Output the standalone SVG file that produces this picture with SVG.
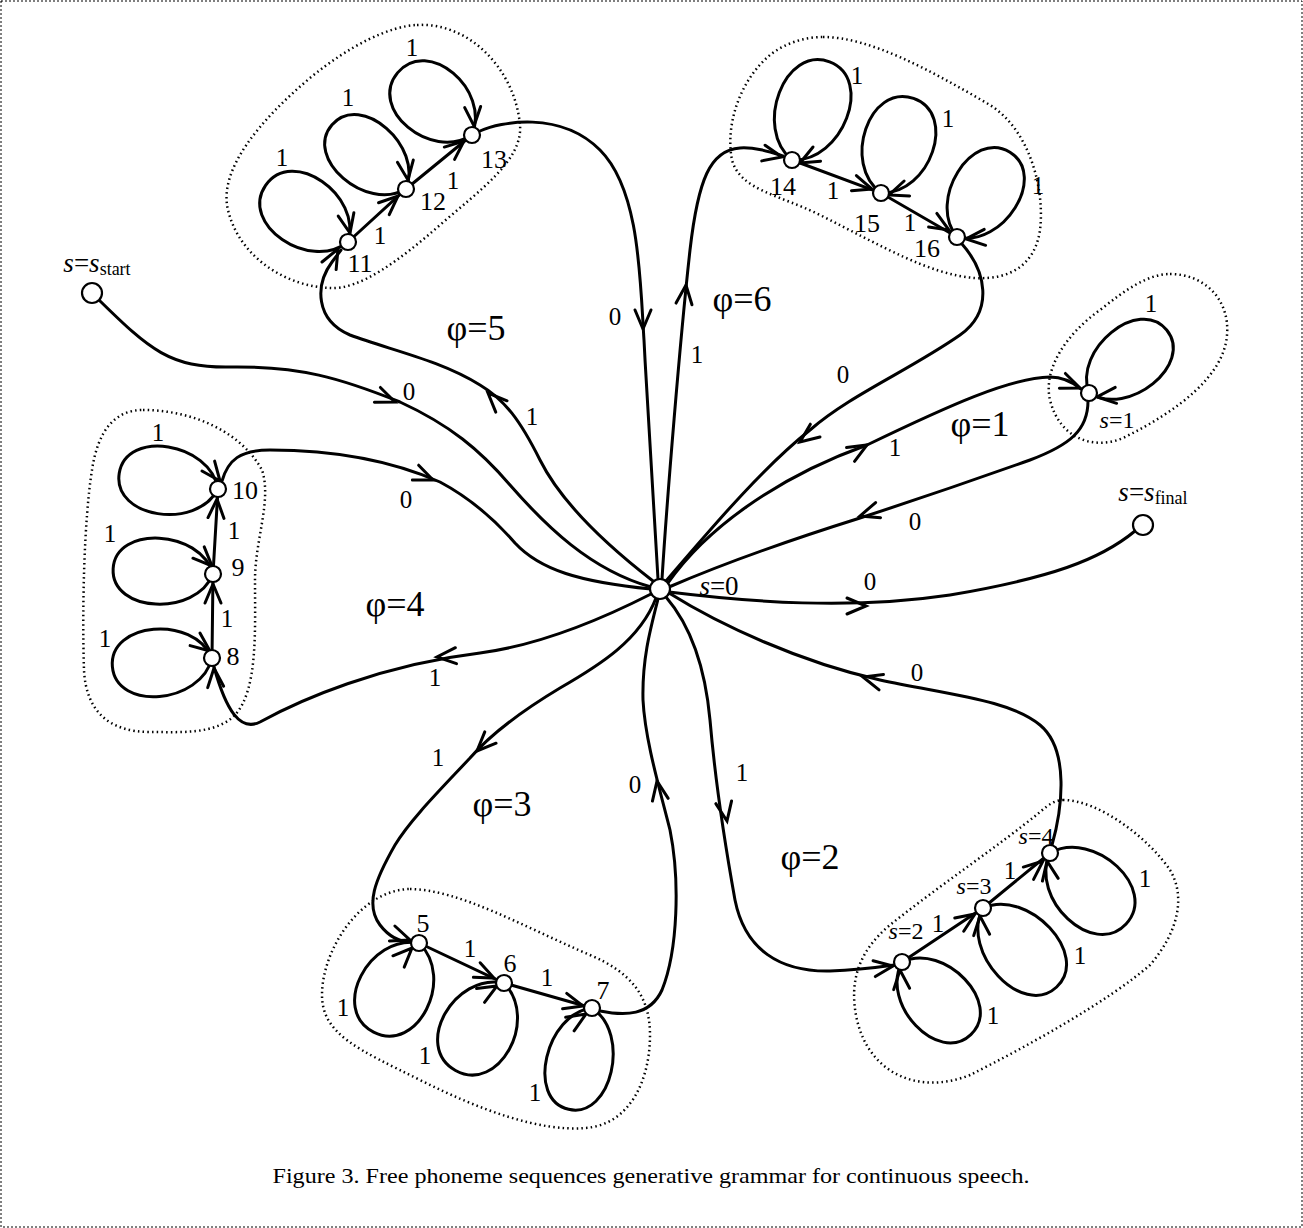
<svg xmlns="http://www.w3.org/2000/svg" xmlns:xlink="http://www.w3.org/1999/xlink" width="1303" height="1228" viewBox="0 0 1303 1228">
<style>
.e{fill:none;stroke:#000;stroke-width:3;stroke-linecap:round}
.bd{fill:none;stroke:#000;stroke-width:2.5;stroke-dasharray:1.5 3.2;stroke-linecap:butt}
.nd{fill:#fff;stroke:#000;stroke-width:2.2}
.t{font-family:"Liberation Serif","Times New Roman",serif;fill:#000;text-anchor:middle}
.d{font-size:25px}
.nl{font-size:26px}
.sl{font-size:24px}
.ph{font-size:36px}
.it{font-style:italic}
</style>
<defs>
<path id="ah" d="M-19,-8 L0,0 L-19,8" fill="none" stroke="#000" stroke-width="3" stroke-linecap="round" stroke-linejoin="miter"/>
</defs>
<rect x="1" y="1" width="1301" height="1226" fill="#fff" stroke="#000" stroke-width="1" stroke-dasharray="2 2"/>

<g id="clusters">
<path class="bd" d="M417,25 C470,22 515,70 520,125 C523,160 480,190 440,225 C400,260 360,290 330,288 C290,287 240,260 228,210 C218,170 260,120 310,78 C350,45 390,26 417,25 Z"/>
<path class="bd" d="M823,37 C870,37 930,70 990,105 C1030,130 1045,190 1040,230 C1035,265 1010,280 975,278 C930,275 880,245 820,215 C780,195 740,190 732,160 C725,125 740,80 770,55 C785,43 805,37 823,37 Z"/>
<path class="bd" d="M1170,274 C1205,274 1230,300 1227,335 C1224,375 1180,410 1123,438 C1095,450 1060,440 1050,400 C1043,370 1065,335 1100,310 C1125,290 1148,274 1170,274 Z"/>
<path class="bd" d="M143,410 C190,410 240,430 262,470 C272,500 255,540 255,580 C255,630 258,690 235,715 C215,735 180,732 150,732 C110,732 86,712 84,670 C82,610 84,520 92,470 C98,430 115,410 143,410 Z"/>
<path class="bd" d="M410,889 C460,890 520,925 590,955 C630,972 650,995 650,1035 C650,1080 630,1125 585,1128 C540,1132 480,1110 420,1080 C360,1050 322,1035 322,995 C322,950 360,890 410,889 Z"/>
<path class="bd" d="M1063,800 C1100,800 1150,840 1170,870 C1185,895 1180,930 1150,965 C1110,1000 1030,1045 970,1075 C920,1095 870,1075 857,1020 C848,980 860,950 890,925 C940,885 1000,845 1040,812 C1048,805 1055,800 1063,800 Z"/>
</g>

<g id="connectors">
<!-- main edges -->
<path class="e" d="M99,300 C150,350 170,368 230,367 C300,366 340,378 400,402 C450,425 480,450 510,485 C545,525 590,570 651,587"/>
<path class="e" d="M669,592 C750,602 850,610 950,595 C1050,578 1100,560 1135,531"/>
<path class="e" d="M653,581 C600,540 560,500 540,460 C520,420 505,400 480,385 C440,360 390,350 350,335 C315,320 315,285 332,262 L341,250"/>
<path class="e" d="M480,131 C500,122 560,110 600,150 C640,190 640,280 644,340 C648,420 654,500 658,579"/>
<path class="e" d="M662,579 C667,500 680,340 690,250 C698,180 710,150 740,148 C755,147 770,152 783,156"/>
<path class="e" d="M962,244 C985,270 995,310 960,335 C910,370 850,395 810,430 C760,470 710,530 666,581"/>
<path class="e" d="M668,583 C705,530 775,478 867,445 C950,405 1010,378 1050,377 C1065,377 1075,384 1081,389"/>
<path class="e" d="M1088,401 C1088,430 1070,445 1030,460 C960,485 900,505 860,518 C790,540 720,565 669,587"/>
<path class="e" d="M651,594 C600,620 540,645 480,653 C380,665 300,700 260,722 C240,732 226,710 214,667"/>
<path class="e" d="M222,481 C228,460 240,450 270,450 C330,450 390,460 440,482 C470,498 495,520 515,543 C540,570 580,582 651,589"/>
<path class="e" d="M656,598 C640,640 600,665 560,688 C520,712 490,735 470,758 C440,790 410,820 395,845 C375,880 365,905 380,925 C390,938 400,942 411,942"/>
<path class="e" d="M600,1011 C625,1016 650,1016 662,990 C678,950 680,880 670,830 C660,790 645,740 643,700 C642,660 650,630 658,599"/>
<path class="e" d="M666,597 C690,625 705,665 710,720 C716,790 726,850 735,900 C745,950 780,972 830,971 C860,970 880,967 894,965"/>
<path class="e" d="M1052,845 C1062,810 1070,750 1040,725 C1010,700 950,695 880,680 C800,662 720,625 669,593"/>
<!-- intra cluster edges -->
<path class="e" d="M348,242 L406,189 L472,135"/>
<path class="e" d="M792,160 L881,193 L957,237"/>
<path class="e" d="M212,658 L213,574 L218,489"/>
<path class="e" d="M419,943 L504,983 L592,1008"/>
<path class="e" d="M902,962 L983,908 L1050,853"/>
<!-- self loops -->
<path class="e" d="M0,0 C-15,-47 -100,-47 -100,0 C-100,47 -15,47 0,0" transform="translate(348,242) rotate(34.5)"/>
<path class="e" d="M0,0 C-15,-44 -98,-44 -98,0 C-98,44 -15,44 0,0" transform="translate(406,189) rotate(41)"/>
<path class="e" d="M0,0 C-15,-47 -97,-47 -97,0 C-97,47 -15,47 0,0" transform="translate(472,135) rotate(40)"/>
<path class="e" d="M0,0 C-16,-48 -105,-48 -105,0 C-105,48 -16,48 0,0" transform="translate(792,160) rotate(111)"/>
<path class="e" d="M0,0 C-15,-47 -100,-47 -100,0 C-100,47 -15,47 0,0" transform="translate(881,193) rotate(109)"/>
<path class="e" d="M0,0 C-15,-45 -100,-45 -100,0 C-100,45 -15,45 0,0" transform="translate(957,237) rotate(122)"/>
<path class="e" d="M0,0 C-15,-44 -100,-44 -100,0 C-100,44 -15,44 0,0" transform="translate(1089,393) rotate(141)"/>
<path class="e" d="M0,0 C-15,-45 -100,-45 -100,0 C-100,45 -15,45 0,0" transform="translate(218,489) rotate(9)"/>
<path class="e" d="M0,0 C-15,-44 -100,-44 -100,0 C-100,44 -15,44 0,0" transform="translate(213,574) rotate(3)"/>
<path class="e" d="M0,0 C-15,-45 -100,-45 -100,0 C-100,45 -15,45 0,0" transform="translate(212,658) rotate(-5)"/>
<path class="e" d="M0,0 C-15,-49 -100,-49 -100,0 C-100,49 -15,49 0,0" transform="translate(419,943) rotate(-63)"/>
<path class="e" d="M0,0 C-15,-49 -100,-49 -100,0 C-100,49 -15,49 0,0" transform="translate(504,983) rotate(-61)"/>
<path class="e" d="M0,0 C-16,-44 -104,-44 -104,0 C-104,44 -16,44 0,0" transform="translate(592,1008) rotate(-77)"/>
<path class="e" d="M0,0 C-15,-45 -100,-45 -100,0 C-100,45 -15,45 0,0" transform="translate(902,962) rotate(-133.5)"/>
<path class="e" d="M0,0 C-16,-47 -108,-47 -108,0 C-108,47 -16,47 0,0" transform="translate(983,908) rotate(-133)"/>
<path class="e" d="M0,0 C-16,-48 -104,-48 -104,0 C-104,48 -16,48 0,0" transform="translate(1050,853) rotate(-137)"/>
<!-- arrowheads -->
<use xlink:href="#ah" transform="translate(395,402) rotate(22)"/>
<use xlink:href="#ah" transform="translate(643,329) rotate(90)"/>
<use xlink:href="#ah" transform="translate(488,393) rotate(-135)"/>
<use xlink:href="#ah" transform="translate(686,285) rotate(-84)"/>
<use xlink:href="#ah" transform="translate(800,442) rotate(143)"/>
<use xlink:href="#ah" transform="translate(867,445) rotate(-30)"/>
<use xlink:href="#ah" transform="translate(860,516) rotate(162)"/>
<use xlink:href="#ah" transform="translate(866,606) rotate(0)"/>
<use xlink:href="#ah" transform="translate(863,677) rotate(196)"/>
<use xlink:href="#ah" transform="translate(727,821) rotate(80)"/>
<use xlink:href="#ah" transform="translate(657,781) rotate(-100)"/>
<use xlink:href="#ah" transform="translate(477,751) rotate(135)"/>
<use xlink:href="#ah" transform="translate(437,657) rotate(176)"/>
<use xlink:href="#ah" transform="translate(433,480) rotate(23)"/>
<use xlink:href="#ah" transform="translate(338,249) rotate(-62)"/>
<use xlink:href="#ah" transform="translate(782,157) rotate(12)"/>
<use xlink:href="#ah" transform="translate(1080,388) rotate(22)"/>
<use xlink:href="#ah" transform="translate(214,668) rotate(-95)"/>
<use xlink:href="#ah" transform="translate(410,940) rotate(20)"/>
<use xlink:href="#ah" transform="translate(893,966) rotate(-8)"/>
<use xlink:href="#ah" transform="translate(398,196) rotate(-42)"/>
<use xlink:href="#ah" transform="translate(464,141) rotate(-40)"/>
<use xlink:href="#ah" transform="translate(872,189) rotate(18)"/>
<use xlink:href="#ah" transform="translate(949,230) rotate(31)"/>
<use xlink:href="#ah" transform="translate(213,584) rotate(-90)"/>
<use xlink:href="#ah" transform="translate(217,499) rotate(-87)"/>
<use xlink:href="#ah" transform="translate(494,978) rotate(25)"/>
<use xlink:href="#ah" transform="translate(583,1006) rotate(15)"/>
<use xlink:href="#ah" transform="translate(975,914) rotate(-34)"/>
<use xlink:href="#ah" transform="translate(1043,861) rotate(-40)"/>
<use xlink:href="#ah" transform="translate(350,233) rotate(78)"/>
<use xlink:href="#ah" transform="translate(408,180) rotate(82)"/>
<use xlink:href="#ah" transform="translate(474,126) rotate(86)"/>
<use xlink:href="#ah" transform="translate(800,163) rotate(152)"/>
<use xlink:href="#ah" transform="translate(889,195) rotate(160)"/>
<use xlink:href="#ah" transform="translate(966,239) rotate(175)"/>
<use xlink:href="#ah" transform="translate(1097,397) rotate(175)"/>
<use xlink:href="#ah" transform="translate(220,481) rotate(52)"/>
<use xlink:href="#ah" transform="translate(212,566) rotate(45)"/>
<use xlink:href="#ah" transform="translate(210,651) rotate(38)"/>
<use xlink:href="#ah" transform="translate(412,948) rotate(-45)"/>
<use xlink:href="#ah" transform="translate(497,986) rotate(-30)"/>
<use xlink:href="#ah" transform="translate(586,1014) rotate(-32)"/>
<use xlink:href="#ah" transform="translate(900,970) rotate(-95)"/>
<use xlink:href="#ah" transform="translate(980,916) rotate(-95)"/>
<use xlink:href="#ah" transform="translate(1047,861) rotate(-100)"/>
<!-- edge labels -->
<g class="t d">
<text x="409" y="400">0</text>
<text x="615" y="325">0</text>
<text x="532" y="425">1</text>
<text x="697" y="363">1</text>
<text x="843" y="383">0</text>
<text x="895" y="456">1</text>
<text x="915" y="530">0</text>
<text x="870" y="590">0</text>
<text x="917" y="681">0</text>
<text x="742" y="781">1</text>
<text x="635" y="793">0</text>
<text x="438" y="766">1</text>
<text x="435" y="686">1</text>
<text x="406" y="508">0</text>
<text x="282" y="166">1</text>
<text x="348" y="106">1</text>
<text x="412" y="56">1</text>
<text x="857" y="84">1</text>
<text x="948" y="127">1</text>
<text x="1038" y="194">1</text>
<text x="1151" y="312">1</text>
<text x="158" y="441">1</text>
<text x="110" y="542">1</text>
<text x="105" y="647">1</text>
<text x="343" y="1016">1</text>
<text x="425" y="1064">1</text>
<text x="535" y="1101">1</text>
<text x="993" y="1024">1</text>
<text x="1080" y="964">1</text>
<text x="1145" y="887">1</text>
<text x="380" y="244">1</text>
<text x="453" y="189">1</text>
<text x="833" y="199">1</text>
<text x="910" y="231">1</text>
<text x="234" y="539">1</text>
<text x="227" y="627">1</text>
<text x="470" y="957">1</text>
<text x="547" y="986">1</text>
<text x="938" y="932">1</text>
<text x="1010" y="879">1</text>
</g>
<g class="t ph">
<text x="476" y="340">φ=5</text>
<text x="742" y="311">φ=6</text>
<text x="980" y="436">φ=1</text>
<text x="395" y="616">φ=4</text>
<text x="502" y="816">φ=3</text>
<text x="810" y="869">φ=2</text>
</g>
</g>

<g id="n0"><circle class="nd" cx="660" cy="589" r="10"/><text class="t" style="font-size:27px" x="719" y="595"><tspan class="it">s</tspan>=0</text></g>
<g id="nstart"><circle class="nd" cx="92" cy="293" r="10"/><text class="t" style="font-size:27px" x="97" y="272"><tspan class="it">s</tspan>=<tspan class="it">s</tspan><tspan style="font-size:18px" dy="3">start</tspan></text></g>
<g id="nfinal"><circle class="nd" cx="1143" cy="525" r="10"/><text class="t" style="font-size:27px" x="1153" y="501"><tspan class="it">s</tspan>=<tspan class="it">s</tspan><tspan style="font-size:18px" dy="3">final</tspan></text></g>
<g id="n1"><circle class="nd" cx="1089" cy="393" r="8"/><text class="t sl" x="1117" y="428"><tspan class="it">s</tspan>=1</text></g>
<g id="n2"><circle class="nd" cx="902" cy="962" r="8"/><text class="t sl" x="906" y="939"><tspan class="it">s</tspan>=2</text></g>
<g id="n3"><circle class="nd" cx="983" cy="908" r="8"/><text class="t sl" x="974" y="894"><tspan class="it">s</tspan>=3</text></g>
<g id="n4"><circle class="nd" cx="1050" cy="853" r="8"/><text class="t sl" x="1036" y="844"><tspan class="it">s</tspan>=4</text></g>
<g id="n5"><circle class="nd" cx="419" cy="943" r="8"/><text class="t nl" x="423" y="932">5</text></g>
<g id="n6"><circle class="nd" cx="504" cy="983" r="8"/><text class="t nl" x="510" y="972">6</text></g>
<g id="n7"><circle class="nd" cx="592" cy="1008" r="8"/><text class="t nl" x="603" y="999">7</text></g>
<g id="n8"><circle class="nd" cx="212" cy="658" r="8"/><text class="t nl" x="233" y="665">8</text></g>
<g id="n9"><circle class="nd" cx="213" cy="574" r="8"/><text class="t nl" x="238" y="576">9</text></g>
<g id="n10"><circle class="nd" cx="218" cy="489" r="8"/><text class="t nl" x="245" y="499">10</text></g>
<g id="n11"><circle class="nd" cx="348" cy="242" r="8"/><text class="t nl" x="360" y="272">11</text></g>
<g id="n12"><circle class="nd" cx="406" cy="189" r="8"/><text class="t nl" x="433" y="210">12</text></g>
<g id="n13"><circle class="nd" cx="472" cy="135" r="8"/><text class="t nl" x="494" y="168">13</text></g>
<g id="n14"><circle class="nd" cx="792" cy="160" r="8"/><text class="t nl" x="783" y="195">14</text></g>
<g id="n15"><circle class="nd" cx="881" cy="193" r="8"/><text class="t nl" x="867" y="232">15</text></g>
<g id="n16"><circle class="nd" cx="957" cy="237" r="8"/><text class="t nl" x="927" y="257">16</text></g>

<text class="t" style="font-size:21px" x="651" y="1183" textLength="757" lengthAdjust="spacingAndGlyphs">Figure 3. Free phoneme sequences generative grammar for continuous speech.</text>
</svg>
